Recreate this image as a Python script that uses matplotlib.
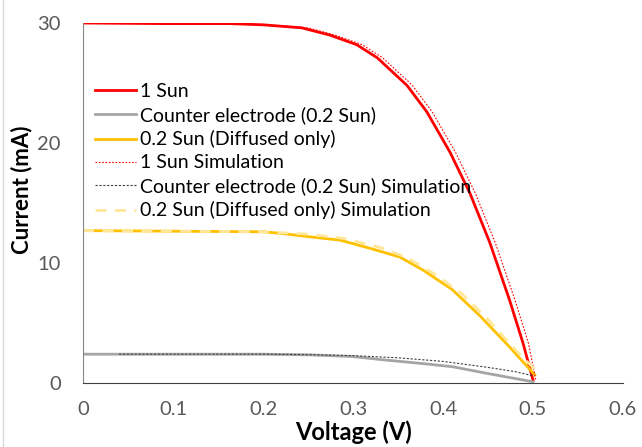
import matplotlib.pyplot as plt
from matplotlib.lines import Line2D

# I-V data (voltage in V, current in mA)
sun1_v = [0, 0.09, 0.163, 0.2, 0.243, 0.274, 0.304, 0.327, 0.36, 0.382, 0.408, 0.43, 0.452, 0.474, 0.489, 0.5]
sun1_i = [30.0, 29.95, 29.95, 29.85, 29.6, 29.0, 28.2, 27.1, 24.8, 22.6, 19.2, 15.8, 11.7, 6.9, 3.3, 0.25]

counter_v = [0, 0.1, 0.2, 0.25, 0.3, 0.338, 0.38, 0.411, 0.449, 0.5]
counter_i = [2.4, 2.4, 2.4, 2.35, 2.2, 1.9, 1.6, 1.35, 0.8, 0.1]

diffused_v = [0, 0.1, 0.2, 0.22, 0.25, 0.286, 0.32, 0.352, 0.378, 0.41, 0.441, 0.474, 0.502]
diffused_i = [12.7, 12.65, 12.6, 12.47, 12.2, 11.9, 11.2, 10.5, 9.4, 7.8, 5.6, 3.0, 0.67]

sun1_sim_v = [0, 0.1, 0.2, 0.25, 0.28, 0.31, 0.333, 0.366, 0.388, 0.414, 0.436, 0.458, 0.48, 0.495, 0.503]
sun1_sim_i = [30.0, 29.97, 29.88, 29.6, 29.0, 28.2, 27.1, 24.8, 22.6, 19.2, 15.8, 11.7, 6.9, 3.3, 0.3]

counter_sim_v = [0.04, 0.1, 0.2, 0.26, 0.3, 0.35, 0.4, 0.45, 0.48, 0.5]
counter_sim_i = [2.4, 2.4, 2.4, 2.35, 2.28, 2.1, 1.8, 1.3, 0.95, 0.6]

diffused_sim_v = [0, 0.1, 0.2, 0.25, 0.29, 0.33, 0.36, 0.39, 0.42, 0.45, 0.48, 0.505]
diffused_sim_i = [12.7, 12.65, 12.6, 12.4, 12.05, 11.3, 10.45, 9.1, 7.5, 5.3, 2.8, 0.9]

x_ticks = [0, 0.1, 0.2, 0.3, 0.4, 0.5, 0.6]
x_tick_labels = ['0', '0.1', '0.2', '0.3', '0.4', '0.5', '0.6']
y_ticks = [0, 10, 20, 30]

plt.rcParams['font.family'] = ['Lato', 'DejaVu Sans']

fig = plt.figure(figsize=(6.42, 4.47), dpi=100)
ax = fig.add_axes([0.1293, 0.1432, 0.8411, 0.8053])

ax.plot(sun1_v, sun1_i, color='#FF0000', lw=2, label='1 Sun')
ax.plot(counter_v, counter_i, color='#A5A5A5', lw=2, label='Counter electrode (0.2 Sun)')
ax.plot(diffused_v, diffused_i, color='#FFC000', lw=2, label='0.2 Sun (Diffused only)')
ax.plot(sun1_sim_v, sun1_sim_i, color='#FF0000', lw=0.8, ls=(0, (1.5, 1.5)),
        label='1 Sun Simulation')
ax.plot(counter_sim_v, counter_sim_i, color='#404040', lw=0.8, ls=(0, (2, 1.5)),
        label='Counter electrode (0.2 Sun) Simulation')
ax.plot(diffused_sim_v, diffused_sim_i, color='#FFE699', lw=2, ls=(0, (4, 3)),
        label='0.2 Sun (Diffused only) Simulation')

ax.set_xlim(0, 0.6)
ax.set_ylim(0, 30)
ax.set_xticks(x_ticks)
ax.set_xticklabels(x_tick_labels)
ax.set_yticks(y_ticks)
ax.tick_params(length=0, labelsize=14.5, labelcolor='#595959')
ax.tick_params(axis='x', pad=13)
ax.tick_params(axis='y', pad=16)

for side in ['top', 'right']:
    ax.spines[side].set_visible(False)
ax.spines['left'].set_color('#868686')
ax.spines['bottom'].set_color('#404040')

ax.set_xlabel('Voltage (V)', fontsize=17, fontweight='bold', labelpad=2)
ax.set_ylabel('Current (mA)', fontsize=16, fontweight='bold')
ax.yaxis.set_label_coords(-0.094, 0.536)

ax.legend(loc='upper left', bbox_to_anchor=(0.0, 0.865), frameon=False,
          fontsize=14, handlelength=2.1, handletextpad=0.22, labelspacing=0.31,
          borderaxespad=0.2)

# thin border on the left edge of the chart area
fig.add_artist(Line2D([0.005, 0.005], [0, 1], transform=fig.transFigure,
                      color='#D9D9D9', lw=1))

fig.savefig('out.png', dpi=100)
